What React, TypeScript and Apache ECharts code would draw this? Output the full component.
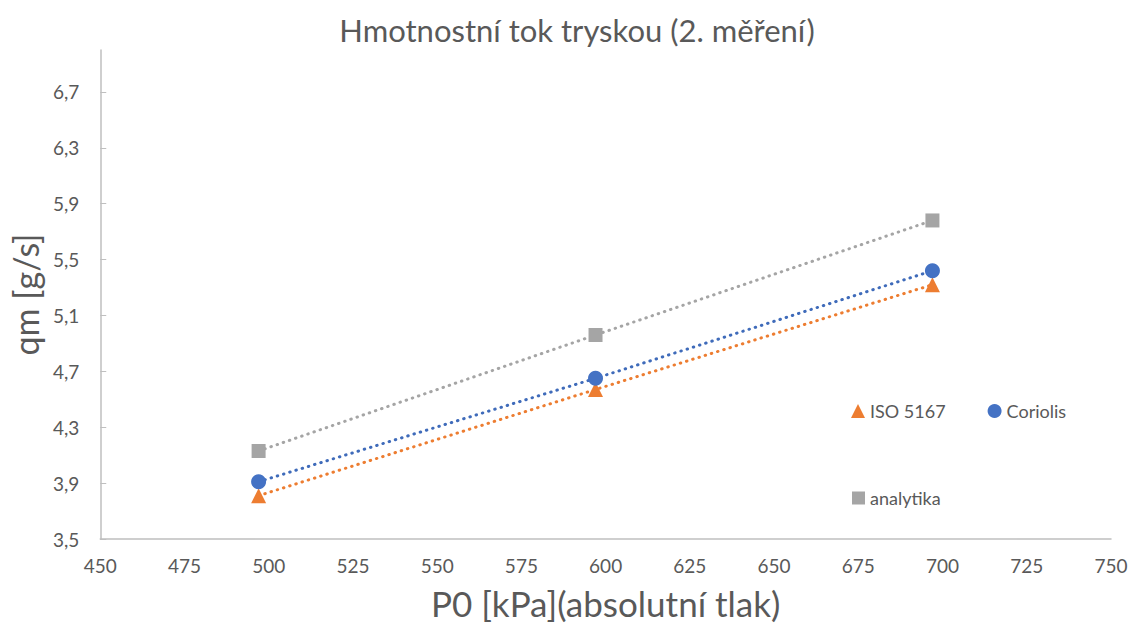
import React, { useEffect, useRef } from "react";
import * as echarts from "echarts";

const pressures = [497, 597, 697];
const iso5167 = [3.81, 4.57, 5.32];
const coriolis = [3.91, 4.65, 5.42];
const analytika = [4.13, 4.96, 5.78];
const yTicks = [3.5, 3.9, 4.3, 4.7, 5.1, 5.5, 5.9, 6.3, 6.7];

const FONT = "Lato, 'Open Sans', sans-serif";
const TEXT = "#595959";

export default function App() {
  const ref = useRef<HTMLDivElement>(null);
  useEffect(() => {
    document.body.style.margin = "0";
    const chart = echarts.init(ref.current!, null, { renderer: "svg" });
    const pair = (ys: number[]) => pressures.map((x, i) => [x, ys[i]]);
    const dotted = (color: string) => ({
      color,
      width: 3,
      type: [0.5, 6] as any,
      cap: "round" as const,
    });
    chart.setOption({
      animation: false,
      backgroundColor: "#fff",
      textStyle: { fontFamily: FONT },
      title: {
        text: "Hmotnostní tok tryskou (2. měření)",
        left: 572,
        textAlign: "center",
        top: 9,
        textStyle: { fontFamily: FONT, fontSize: 31, fontWeight: "normal", color: TEXT },
      },
      grid: { left: 98, right: 21, top: 50, bottom: 84 },
      xAxis: {
        type: "value",
        min: 450,
        max: 750,
        interval: 25,
        name: "P0 [kPa](absolutní tlak)",
        nameLocation: "middle",
        nameGap: 46,
        nameTextStyle: { fontFamily: FONT, fontSize: 35, color: TEXT },
        axisLine: { show: true, lineStyle: { color: "#BFBFBF", width: 1.5 } },
        axisTick: { show: false },
        splitLine: { show: false },
        axisLabel: { margin: 17, fontSize: 19, color: TEXT, fontFamily: FONT },
      },
      yAxis: {
        type: "value",
        min: 3.5,
        max: 7.0,
        name: "qm [g/s]",
        nameLocation: "middle",
        nameGap: 52,
        nameTextStyle: { fontFamily: FONT, fontSize: 34, color: TEXT },
        axisLine: { show: true, lineStyle: { color: "#BFBFBF", width: 1.5 } },
        axisTick: {
          show: true,
          inside: true,
          length: 6,
          customValues: yTicks,
          lineStyle: { color: "#BFBFBF" },
        },
        splitLine: { show: false },
        axisLabel: {
          customValues: yTicks,
          margin: 21,
          fontSize: 19,
          color: TEXT,
          fontFamily: FONT,
          formatter: (v: number) => v.toFixed(1).replace(".", ","),
        },
      },
      legend: [
        {
          data: [
            { name: "ISO 5167", icon: "triangle" },
            { name: "Coriolis", icon: "circle" },
          ],
          left: 846,
          top: 397,
          itemWidth: 14,
          itemHeight: 14,
          itemGap: 42,
          textStyle: { fontSize: 18, color: TEXT, fontFamily: FONT },
        },
        {
          data: [{ name: "analytika", icon: "rect" }],
          left: 847,
          top: 484,
          itemWidth: 13,
          itemHeight: 13,
          textStyle: { fontSize: 18, color: TEXT, fontFamily: FONT },
        },
      ],
      series: [
        {
          name: "ISO 5167",
          type: "line",
          data: pair(iso5167),
          symbol: "triangle",
          symbolSize: 15,
          itemStyle: { color: "#ED7D31" },
          lineStyle: dotted("#ED7D31"),
        },
        {
          name: "Coriolis",
          type: "line",
          data: pair(coriolis),
          symbol: "circle",
          symbolSize: 15,
          itemStyle: { color: "#4472C4" },
          lineStyle: dotted("#3F6BBA"),
        },
        {
          name: "analytika",
          type: "line",
          data: pair(analytika),
          symbol: "rect",
          symbolSize: 14,
          itemStyle: { color: "#A5A5A5" },
          lineStyle: dotted("#A5A5A5"),
        },
      ],
    });
    return () => chart.dispose();
  }, []);
  return <div ref={ref} style={{ width: 1132, height: 625 }} />;
}
